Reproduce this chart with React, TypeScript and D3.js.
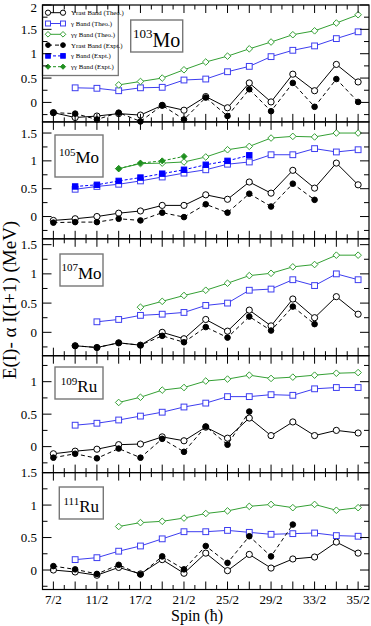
import * as d3 from "d3";
import React from "react";

const W = 371;
const H = 626;
const LEFT = 42.5;
const RIGHT = 369;
const TOP = 5;
const PANEL_H = 116.9;
const FONT = "'Liberation Serif', 'Times New Roman', serif";

// spin of each level (hbar), one point per level
const spins = [3.5, 4.5, 5.5, 6.5, 7.5, 8.5, 9.5, 10.5, 11.5, 12.5, 13.5, 14.5, 15.5, 16.5, 17.5];
const labelSpins = [3.5, 5.5, 7.5, 9.5, 11.5, 13.5, 15.5, 17.5];
const spinLabels = ["7/2", "11/2", "17/2", "21/2", "25/2", "29/2", "33/2", "35/2"];

const massNumbers = ["103", "105", "107", "109", "111"];
const elements = ["Mo", "Mo", "Mo", "Ru", "Ru"];
const yLow = [-0.4, -0.4, -0.4, -0.4, -0.3];
const yHigh = [2.0, 1.7, 1.6, 1.4, 1.5];

// 103Mo
const mo103YrastTheo = [-0.21, -0.31, -0.28, -0.23, -0.26, -0.06, -0.16, 0.12, -0.11, 0.4, 0.01, 0.58, 0.24, 0.78, 0.42];
const mo103YrastExpt = [-0.21, -0.23, -0.35, -0.21, -0.39, -0.06, -0.35, 0.1, -0.28, 0.27, -0.18, 0.4, -0.09, 0.48, 0.01];
const mo103GammaTheo = [null, 0.3, 0.29, 0.24, 0.3, 0.31, 0.46, 0.48, 0.63, 0.74, 0.94, 1.07, 1.16, 1.31, 1.45];
const mo103GammaExpt = [];
const mo103GGTheo = [null, null, null, 0.36, 0.43, 0.5, 0.67, 0.83, 0.95, 1.1, 1.24, 1.39, 1.47, 1.63, 1.8];
const mo103GGExpt = [];

// 105Mo
const mo105YrastTheo = [-0.07, -0.04, 0.0, 0.06, 0.1, 0.2, 0.2, 0.39, 0.31, 0.62, 0.42, 0.83, 0.51, 0.96, 0.57];
const mo105YrastExpt = [-0.11, -0.1, -0.1, -0.04, -0.07, 0.07, -0.01, 0.22, 0.07, 0.41, 0.18, 0.59, 0.3];
const mo105GammaTheo = [null, 0.49, 0.54, 0.58, 0.64, 0.71, 0.78, 0.84, 0.94, 0.98, 1.11, 1.11, 1.22, 1.16, 1.2];
const mo105GammaExpt = [null, 0.54, 0.57, 0.64, 0.7, 0.77, 0.84, 0.93, 1.0, 1.1];
const mo105GGTheo = [null, null, null, 0.86, 0.95, 0.96, 0.98, 1.07, 1.2, 1.26, 1.41, 1.44, 1.43, 1.5, 1.5];
const mo105GGExpt = [null, null, null, 0.86, 0.96, 1.0, 1.08];

// 107Mo
const mo107YrastTheo = [null, -0.23, -0.26, -0.18, -0.22, 0.0, -0.11, 0.22, 0.02, 0.38, 0.11, 0.57, 0.25, 0.61, 0.31];
const mo107YrastExpt = [null, -0.23, -0.26, -0.18, -0.22, -0.06, -0.17, 0.09, -0.09, 0.27, 0.03, 0.44, 0.14];
const mo107GammaTheo = [null, null, 0.18, 0.22, 0.29, 0.31, 0.34, 0.46, 0.5, 0.72, 0.74, 0.9, 0.8, 1.0, 0.9];
const mo107GammaExpt = [];
const mo107GGTheo = [null, null, null, null, 0.43, 0.53, 0.63, 0.72, 0.84, 0.97, 1.01, 1.12, 1.16, 1.32, 1.32];
const mo107GGExpt = [];

// 109Ru
const ru109YrastTheo = [-0.11, -0.07, -0.04, 0.03, 0.04, 0.15, 0.09, 0.3, 0.13, 0.44, 0.17, 0.38, 0.17, 0.25, 0.21];
const ru109YrastExpt = [-0.17, -0.11, -0.18, -0.03, -0.17, 0.12, -0.08, 0.31, 0.03, 0.54];
const ru109GammaTheo = [null, 0.33, 0.36, 0.41, 0.47, 0.53, 0.61, 0.67, 0.77, 0.77, 0.8, 0.79, 0.89, 0.91, 0.91];
const ru109GammaExpt = [];
const ru109GGTheo = [null, null, null, 0.68, 0.76, 0.87, 0.91, 1.01, 1.04, 1.1, 1.05, 1.07, 1.1, 1.13, 1.14];
const ru109GGExpt = [];

// 111Ru
const ru111YrastTheo = [0.0, -0.03, -0.08, 0.04, -0.06, 0.16, -0.05, 0.26, -0.01, 0.24, 0.03, 0.17, 0.2, 0.43, 0.26];
const ru111YrastExpt = [0.06, 0.01, -0.06, 0.08, -0.07, 0.21, 0.01, 0.37, 0.11, 0.52, 0.21, 0.7];
const ru111GammaTheo = [null, 0.16, 0.19, 0.29, 0.37, 0.48, 0.59, 0.59, 0.61, 0.58, 0.55, 0.56, 0.57, 0.53, 0.52];
const ru111GammaExpt = [];
const ru111GGTheo = [null, null, null, 0.67, 0.73, 0.75, 0.8, 0.87, 0.91, 0.98, 1.01, 0.96, 1.01, 0.92, 0.96];
const ru111GGExpt = [];

const BLUE_T = "#3d3df0";
const BLUE_E = "#0000ff";
const GREEN_T = "#34a034";
const GREEN_E = "#1f8f1f";

// order follows the legend
const seriesStyles = [
  { name: "Yrast Band (Theo.)", color: "#000", shape: "circle", filled: false, dash: null },
  { name: "\u03b3 Band (Theo.)", color: BLUE_T, shape: "square", filled: false, dash: null },
  { name: "\u03b3\u03b3 Band (Theo.)", color: GREEN_T, shape: "diamond", filled: false, dash: null },
  { name: "Yrast Band (Expt.)", color: "#000", shape: "circle", filled: true, dash: "4,3" },
  { name: "\u03b3 Band (Expt.)", color: BLUE_E, shape: "square", filled: true, dash: "3,2" },
  { name: "\u03b3\u03b3 Band (Expt.)", color: GREEN_E, shape: "diamond", filled: true, dash: "3,2" },
];

const panelSeries = [
  [mo103YrastTheo, mo103GammaTheo, mo103GGTheo, mo103YrastExpt, mo103GammaExpt, mo103GGExpt],
  [mo105YrastTheo, mo105GammaTheo, mo105GGTheo, mo105YrastExpt, mo105GammaExpt, mo105GGExpt],
  [mo107YrastTheo, mo107GammaTheo, mo107GGTheo, mo107YrastExpt, mo107GammaExpt, mo107GGExpt],
  [ru109YrastTheo, ru109GammaTheo, ru109GGTheo, ru109YrastExpt, ru109GammaExpt, ru109GGExpt],
  [ru111YrastTheo, ru111GammaTheo, ru111GGTheo, ru111YrastExpt, ru111GammaExpt, ru111GGExpt],
];

// nucleus label boxes: x, y, w, h, baseline offset, sup size, main size
const labelBoxes = [
  [130.7, 20, 52, 32, 26.5, 13, 20],
  [55, 135, 48, 42, 28, 11, 17],
  [60, 254, 43, 32, 24.5, 11, 17],
  [55, 367, 48, 32, 24.7, 11, 17],
  [59.3, 487, 44, 32, 25, 11, 17],
];

const xScale = d3.scaleLinear().domain([3, 18]).range([LEFT, RIGHT]);

const Marker = ({ shape, cx, cy, color, filled, size = 1 }) => {
  const fill = filled ? color : "#fff";
  if (shape === "circle") {
    const r = (filled ? 2.8 : 3.1) * size;
    return <circle cx={cx} cy={cy} r={r} fill={fill} stroke={color} strokeWidth={1} />;
  }
  if (shape === "square") {
    const s = (filled ? 2.7 : 2.9) * size;
    return <rect x={cx - s} y={cy - s} width={2 * s} height={2 * s} fill={fill} stroke={color} strokeWidth={1} />;
  }
  const r = (filled ? 3 : 3.3) * size;
  return (
    <path
      d={`M${cx},${cy - r}L${cx + r},${cy}L${cx},${cy + r}L${cx - r},${cy}Z`}
      fill={fill}
      stroke={color}
      strokeWidth={1}
    />
  );
};

const Series = ({ values, style, y }) => {
  const pts = spins.map((s, i) => [s, values[i]]).filter((d) => d[1] != null);
  if (!pts.length) return null;
  const line = d3
    .line()
    .x((d) => xScale(d[0]))
    .y((d) => y(d[1]));
  return (
    <g>
      <path d={line(pts)} fill="none" stroke={style.color} strokeWidth={1} strokeDasharray={style.dash || undefined} />
      {pts.map((d, i) => (
        <Marker key={i} shape={style.shape} cx={xScale(d[0])} cy={y(d[1])} color={style.color} filled={style.filled} />
      ))}
    </g>
  );
};

const Legend = () => {
  const x0 = 42.5;
  const y0 = 5;
  return (
    <g>
      <rect x={x0} y={y0} width={75.8} height={70.5} fill="#fff" stroke="#777" strokeWidth={1.3} />
      {seriesStyles.map((s, i) => {
        const yy = 12.7 + i * 10.8;
        return (
          <g key={s.name}>
            <line x1={48} x2={63} y1={yy} y2={yy} stroke={s.color} strokeWidth={1} strokeDasharray={s.dash || undefined} />
            <Marker shape={s.shape} cx={48} cy={yy} color={s.color} filled={s.filled} size={0.85} />
            <Marker shape={s.shape} cx={63} cy={yy} color={s.color} filled={s.filled} size={0.85} />
            <text x={71} y={yy + 2.4} fontSize={6.8} fontFamily={FONT} fill="#000">
              {s.name}
            </text>
          </g>
        );
      })}
    </g>
  );
};

const Panel = ({ index }) => {
  const top = TOP + index * PANEL_H;
  const bottom = top + PANEL_H;
  const y = d3.scaleLinear().domain([yLow[index], yHigh[index]]).range([bottom, top]);
  const yTicks = d3
    .range(Math.ceil(yLow[index] * 4 - 1e-9), Math.floor(yHigh[index] * 4 + 1e-9) + 1)
    .map((k) => ({ v: k / 4, major: k % 2 === 0 }));
  const xTicks = d3.range(7, 36).map((k) => ({ v: k / 2, major: k % 2 === 1 }));
  const fmt = d3.format("~g");
  const [bx, by, bw, bh, bOff, supSize, mainSize] = labelBoxes[index];
  const isLast = index === massNumbers.length - 1;

  return (
    <g>
      {index === 0 && <Legend />}
      {panelSeries[index].map((vals, i) => (
        <Series key={i} values={vals} style={seriesStyles[i]} y={y} />
      ))}
      <rect x={bx} y={by} width={bw} height={bh} fill="none" stroke="#777" strokeWidth={1.4} />
      <text x={bx + bw / 2} y={by + bOff} textAnchor="middle" fontFamily={FONT} fill="#000">
        <tspan fontSize={supSize} dy={-mainSize * 0.42}>
          {massNumbers[index]}
        </tspan>
        <tspan fontSize={mainSize} dy={mainSize * 0.42}>
          {elements[index]}
        </tspan>
      </text>
      <rect x={LEFT} y={top} width={RIGHT - LEFT} height={PANEL_H} fill="none" stroke="#000" strokeWidth={1.2} />
      {yTicks.map((t, i) => {
        const len = t.major ? 9 : 5;
        const yy = y(t.v);
        return (
          <g key={"y" + i}>
            <line x1={LEFT} x2={LEFT + len} y1={yy} y2={yy} stroke="#000" strokeWidth={1} />
            <line x1={RIGHT} x2={RIGHT - len} y1={yy} y2={yy} stroke="#000" strokeWidth={1} />
            {t.major && (
              <text x={37} y={Math.max(yy, 7.5)} dy="0.35em" textAnchor="end" fontSize={13} fontFamily={FONT} fill="#000">
                {fmt(t.v)}
              </text>
            )}
          </g>
        );
      })}
      {xTicks.map((t, i) => {
        const len = t.major ? 8 : 4.5;
        const xx = xScale(t.v);
        return (
          <g key={"x" + i}>
            <line x1={xx} x2={xx} y1={bottom} y2={bottom - len} stroke="#000" strokeWidth={1} />
            <line x1={xx} x2={xx} y1={top} y2={top + len} stroke="#000" strokeWidth={1} />
          </g>
        );
      })}
      {isLast &&
        labelSpins.map((s, i) => (
          <text key={s} x={xScale(s)} y={bottom + 14} textAnchor="middle" fontSize={13} fontFamily={FONT} fill="#000">
            {spinLabels[i]}
          </text>
        ))}
    </g>
  );
};

export default function App() {
  return (
    <svg
      width={W}
      height={H}
      style={{ position: "absolute", left: 0, top: 0, background: "#fff" }}
    >
      <rect width={W} height={H} fill="#fff" />
      {massNumbers.map((m, i) => (
        <Panel key={m} index={i} />
      ))}
      <text
        transform="translate(16,300) rotate(-90)"
        textAnchor="middle"
        fontSize={19}
        fontFamily={FONT}
        fill="#000"
      >
        E(I)- {"\u03b1"} I(I+1) (MeV)
      </text>
      <text x={197} y={621} textAnchor="middle" fontSize={16} fontFamily={FONT} fill="#000">
        Spin ({"\u0127"})
      </text>
    </svg>
  );
}
